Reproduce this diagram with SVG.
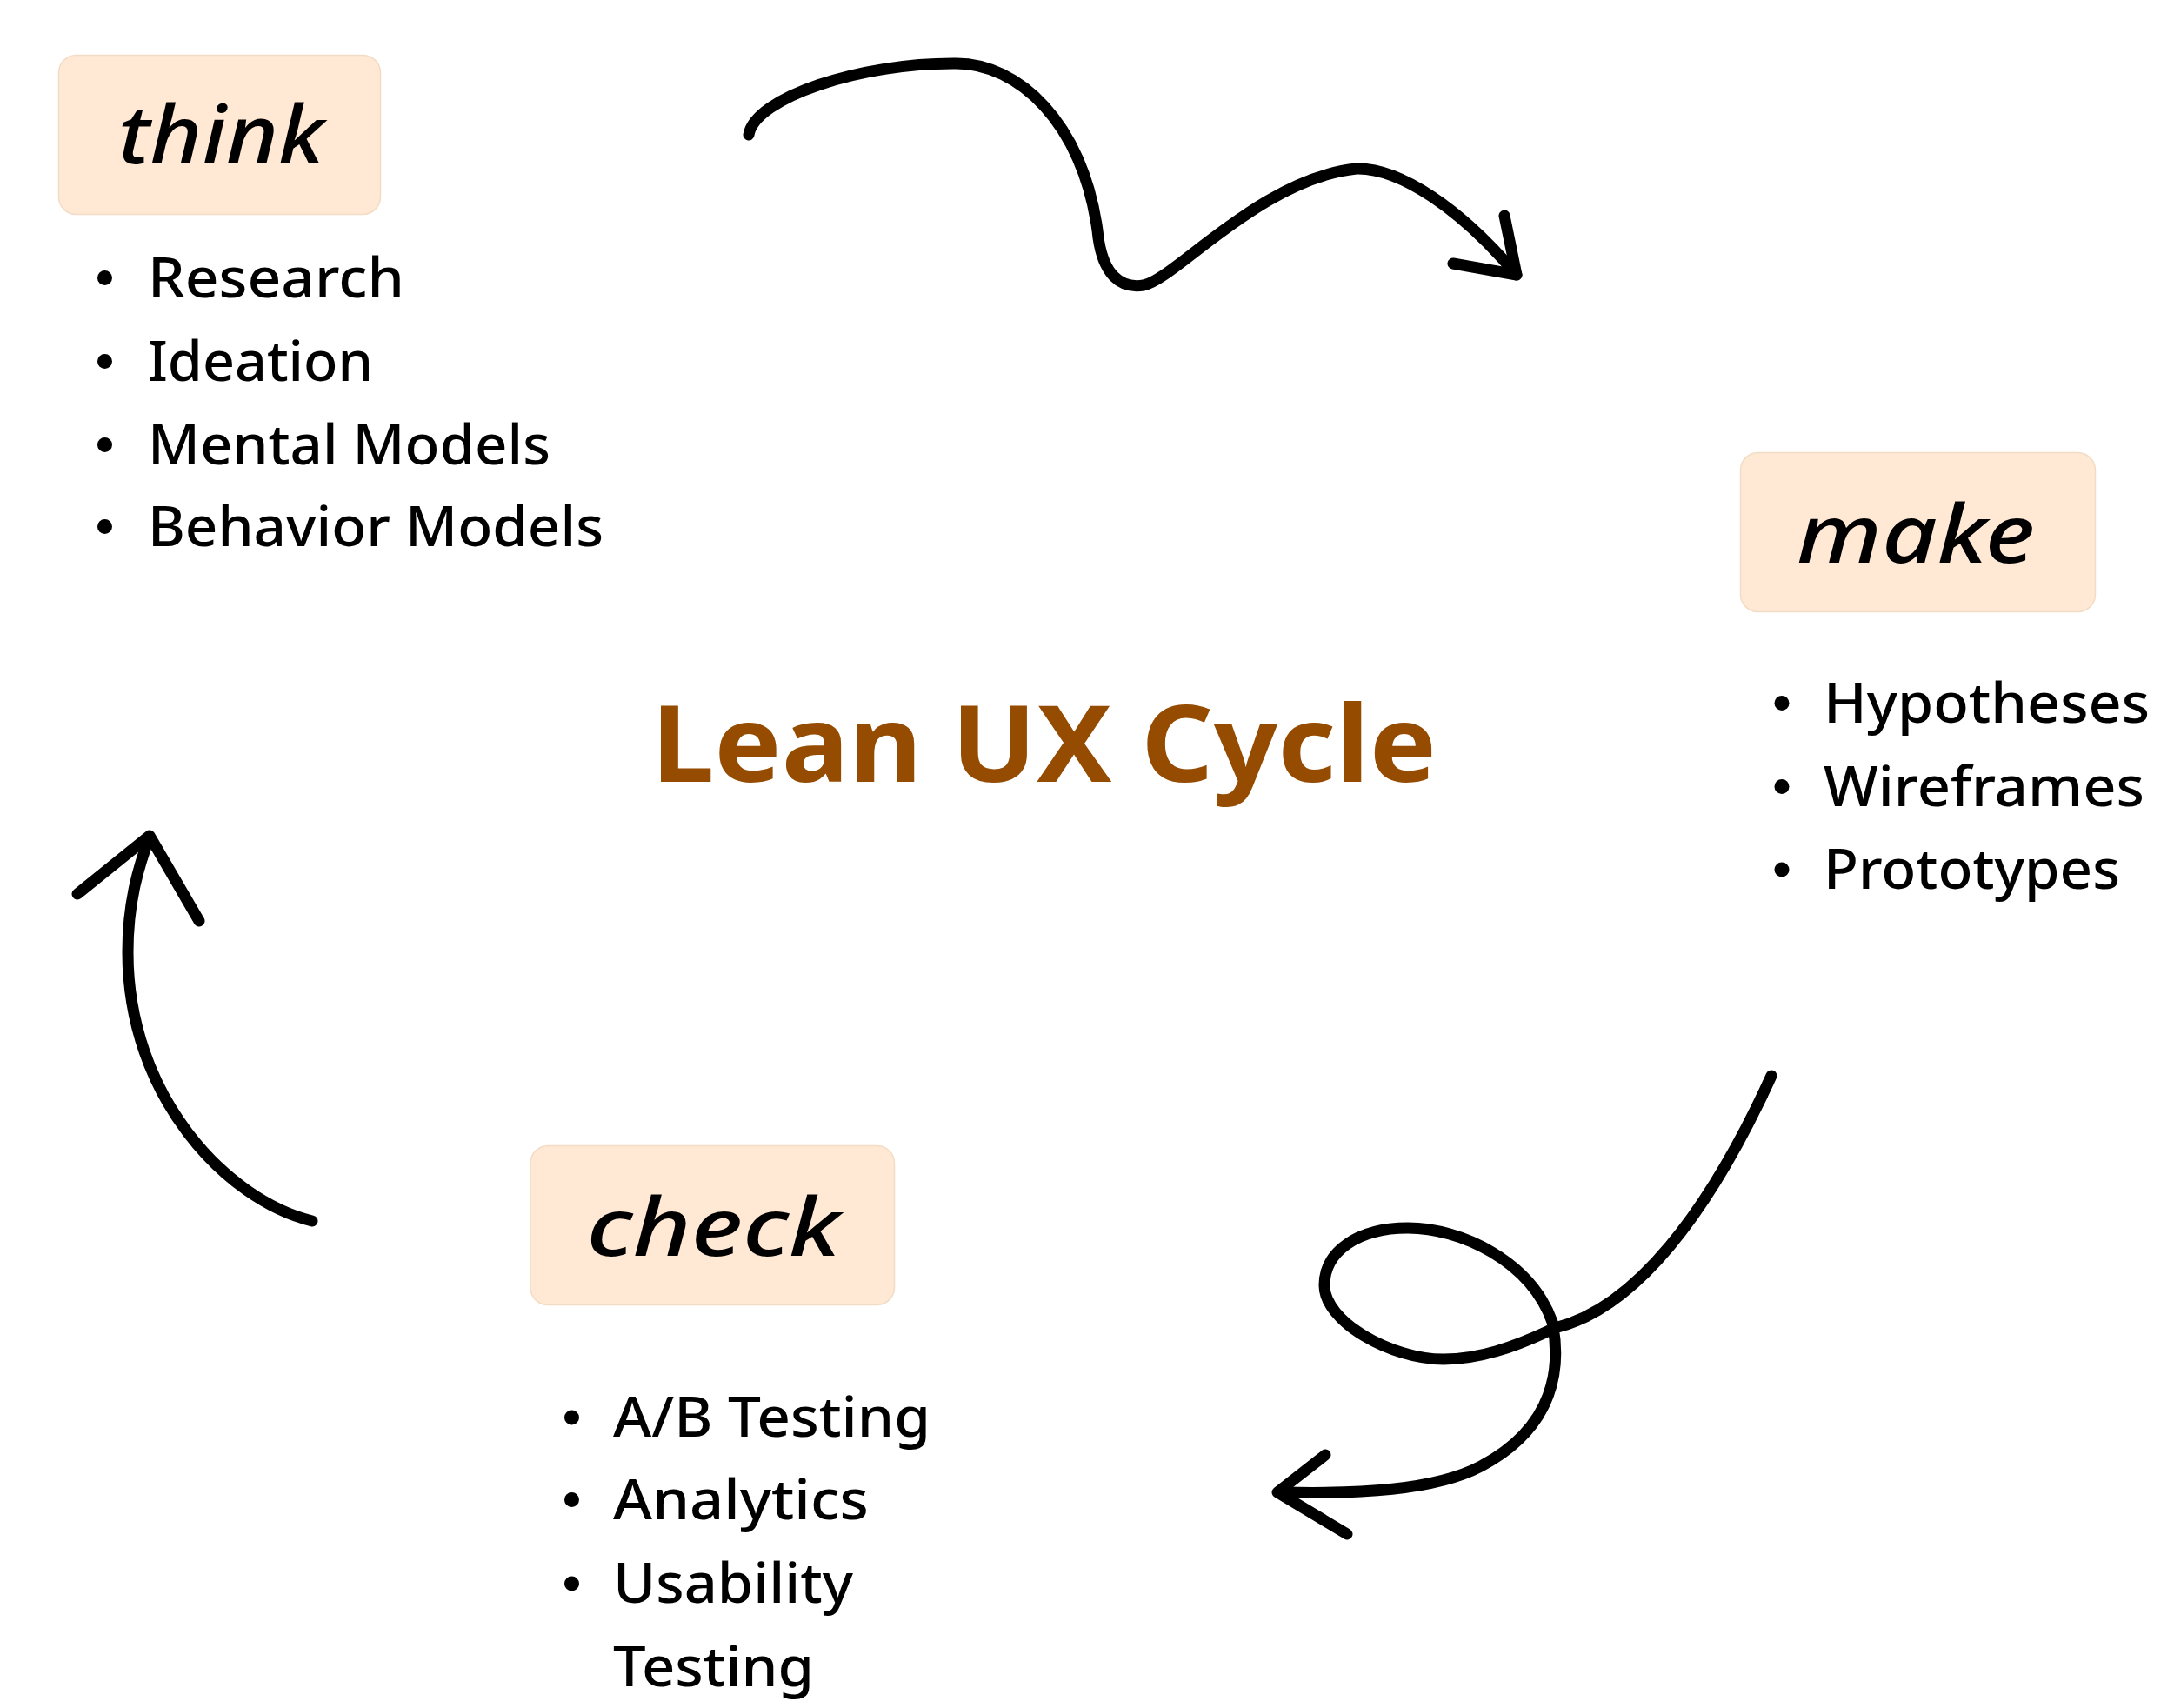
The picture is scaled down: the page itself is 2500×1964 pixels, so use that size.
<svg xmlns="http://www.w3.org/2000/svg" width="2500" height="1964" viewBox="0 0 2500 1964">
<style>
.box{fill:#FFE9D4;stroke:#F2DCC6;stroke-width:1.5}
.phase{font-family:"Noto Sans","Open Sans",sans-serif;font-style:italic;font-weight:500;font-size:92px;fill:#000}
.item{font-family:"Noto Sans","Open Sans",sans-serif;font-weight:500;font-size:63px;fill:#000}
.dot{fill:#000}
.title{font-family:"Noto Sans","Open Sans",sans-serif;font-weight:700;font-size:122px;fill:#954B00}
.conn{fill:none;stroke:#000;stroke-width:13;stroke-linecap:round;stroke-linejoin:round}
</style>
<rect width="2500" height="1964" fill="#fff"/>
<g id="title">
<text class="title" x="749" y="899" textLength="903" lengthAdjust="spacingAndGlyphs">Lean UX Cycle</text>
</g>
<g id="think">
<rect class="box" x="67.5" y="63.5" width="370" height="183" rx="20"/>
<text class="phase" x="136" y="187.5" textLength="237" lengthAdjust="spacingAndGlyphs">think</text>
<circle class="dot" cx="120.5" cy="319.5" r="8.5"/>
<text class="item" x="170" y="341.5" textLength="295" lengthAdjust="spacingAndGlyphs">Research</text>
<circle class="dot" cx="120.5" cy="415.5" r="8.5"/>
<text class="item" x="170" y="437.5" textLength="259" lengthAdjust="spacingAndGlyphs">Ideation</text>
<circle class="dot" cx="120.5" cy="511.5" r="8.5"/>
<text class="item" x="170" y="533.5" textLength="463" lengthAdjust="spacingAndGlyphs">Mental Models</text>
<circle class="dot" cx="120.5" cy="605.5" r="8.5"/>
<text class="item" x="170" y="627.5" textLength="524" lengthAdjust="spacingAndGlyphs">Behavior Models</text>
</g>
<g id="make">
<rect class="box" x="2001.5" y="520.5" width="408" height="183" rx="20"/>
<text class="phase" x="2066" y="647" textLength="274" lengthAdjust="spacingAndGlyphs">make</text>
<circle class="dot" cx="2049" cy="808.5" r="8.5"/>
<text class="item" x="2097" y="831" textLength="375" lengthAdjust="spacingAndGlyphs">Hypotheses</text>
<circle class="dot" cx="2049" cy="904.5" r="8.5"/>
<text class="item" x="2097" y="927" textLength="369" lengthAdjust="spacingAndGlyphs">Wireframes</text>
<circle class="dot" cx="2049" cy="1000" r="8.5"/>
<text class="item" x="2097" y="1022" textLength="341" lengthAdjust="spacingAndGlyphs">Prototypes</text>
</g>
<g id="check">
<rect class="box" x="610" y="1317.5" width="418.5" height="183" rx="20"/>
<text class="phase" x="674.5" y="1443.5" textLength="292" lengthAdjust="spacingAndGlyphs">check</text>
<circle class="dot" cx="657.5" cy="1630" r="8.5"/>
<text class="item" x="705" y="1652" textLength="365" lengthAdjust="spacingAndGlyphs">A/B Testing</text>
<circle class="dot" cx="657.5" cy="1724.5" r="8.5"/>
<text class="item" x="705" y="1746.5" textLength="294" lengthAdjust="spacingAndGlyphs">Analytics</text>
<circle class="dot" cx="657.5" cy="1821" r="8.5"/>
<text class="item" x="705" y="1843" textLength="276" lengthAdjust="spacingAndGlyphs">Usability</text>
<text class="item" x="705" y="1938.5" textLength="231" lengthAdjust="spacingAndGlyphs">Testing</text>
</g>
<g id="connectors">
<path class="conn" d="M861 155 C868 112 990 72 1100 73 C1170 73 1245 140 1262 265 C1267 318 1290 332 1315 328 C1350 322 1450 205 1560 194 C1610 193 1680 240 1744 316"/>
<polyline class="conn" points="1730,248 1744,316 1671,303"/>
<path class="conn" d="M2037 1237 C1965 1395 1880 1505 1788 1527 C1740 1550 1700 1563 1660 1563 C1600 1563 1523 1520 1523 1478 C1523 1440 1560 1412 1619 1412 C1680 1412 1760 1450 1785 1520 C1795 1570 1790 1640 1703 1686 C1650 1714 1560 1718 1475 1716"/>
<polyline class="conn" points="1524,1673 1469,1716 1549,1764"/>
<path class="conn" d="M359 1404 C260 1380 147 1260 147 1095 C147 1040 158 1000 172 962"/>
<polyline class="conn" points="89,1028 172,961 229,1059"/>
</g>
</svg>
